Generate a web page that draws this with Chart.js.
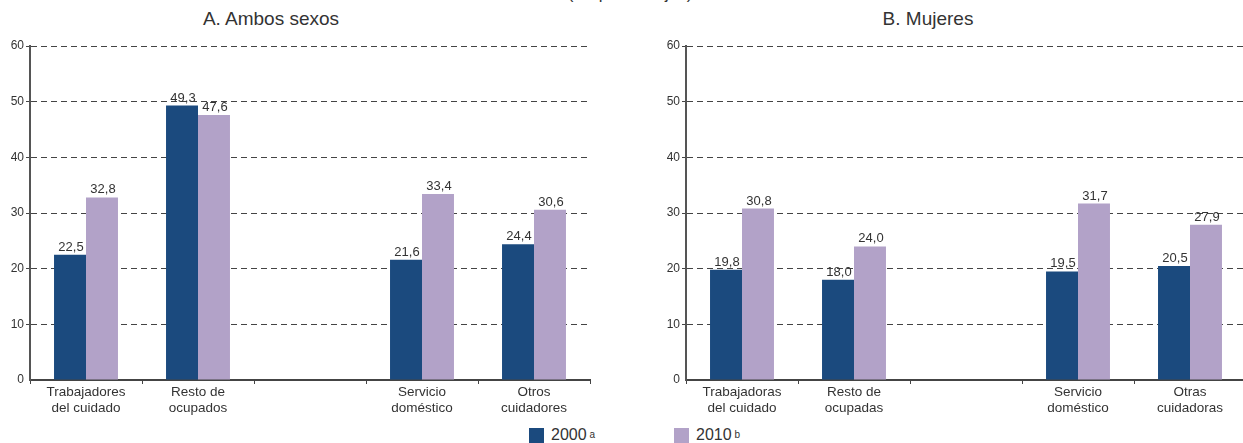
<!DOCTYPE html>
<html>
<head>
<meta charset="utf-8">
<script src="https://cdn.jsdelivr.net/npm/chart.js@4"></script>
<style>
  body { margin: 0; width: 1243px; height: 443px; overflow: hidden; position: relative; background: #fff;
         font-family: "Liberation Sans", Arial, sans-serif; color: #333; }
  .box { position: absolute; }
  .title { position: absolute; top: 9px; font-size: 19px; line-height: 19px; text-align: center; white-space: nowrap; }
  .legend { position: absolute; top: 427px; font-size: 16px; line-height: 16px; display: flex; align-items: center; }
  .legend span.sw { display: inline-block; width: 15px; height: 15px; margin-right: 7px; }
  .legend sup { font-size: 10px; margin-left: 3px; vertical-align: 5px; }
</style>
</head>
<body>
<div class="title" style="top:-15.5px; left:0; width:1260px; font-size:17px; line-height:17px;">(En porcentajes)</div>
<div class="title" style="left:171px; width:200px;">A. Ambos sexos</div>
<div class="title" style="left:828px; width:200px;">B. Mujeres</div>

<div class="box" style="left:0; top:30px; width:600px; height:390px;"><canvas id="chartA"></canvas></div>
<div class="box" style="left:656px; top:30px; width:600px; height:390px;"><canvas id="chartB"></canvas></div>

<div class="legend" style="left:529px;"><span class="sw" style="background:#1b4a7e"></span>2000<sup>a</sup></div>
<div class="legend" style="left:674px;"><span class="sw" style="background:#b2a2c8"></span>2010<sup>b</sup></div>

<script>
// categorias (la tercera es un hueco)
var catsA = [["Trabajadores", "del cuidado"], ["Resto de", "ocupados"], "", ["Servicio", "doméstico"], ["Otros", "cuidadores"]];
var catsB = [["Trabajadoras", "del cuidado"], ["Resto de", "ocupadas"], "", ["Servicio", "doméstico"], ["Otras", "cuidadoras"]];

var a2000 = [22.5, 49.3, null, 21.6, 24.4];
var a2010 = [32.8, 47.6, null, 33.4, 30.6];
var b2000 = [19.8, 18.0, null, 19.5, 20.5];
var b2010 = [30.8, 24.0, null, 31.7, 27.9];

var yTicks = [0, 10, 20, 30, 40, 50, 60];

var BLUE = "#1b4a7e";
var PURPLE = "#b2a2c8";
var FONT = "'Liberation Sans', Arial, sans-serif";

var valueLabels = {
  id: "valueLabels",
  afterDatasetsDraw: function (chart) {
    var ctx = chart.ctx;
    ctx.save();
    ctx.font = "13px " + FONT;
    ctx.fillStyle = "#333";
    ctx.textAlign = "center";
    ctx.textBaseline = "alphabetic";
    chart.data.datasets.forEach(function (ds, i) {
      chart.getDatasetMeta(i).data.forEach(function (bar, j) {
        var v = ds.data[j];
        if (v == null) return;
        ctx.fillText(v.toFixed(1).replace(".", ","), bar.x + 1, bar.y - 4);
      });
    });
    ctx.restore();
  }
};

function makeChart(id, cats, d2000, d2010) {
  var ctx = document.getElementById(id).getContext("2d");
  return new Chart(ctx, {
    type: "bar",
    data: {
      labels: cats,
      datasets: [
        { label: "2000", data: d2000, backgroundColor: BLUE },
        { label: "2010", data: d2010, backgroundColor: PURPLE }
      ]
    },
    options: {
      responsive: true,
      maintainAspectRatio: false,
      animation: false,
      categoryPercentage: 0.571,
      barPercentage: 1,
      layout: { padding: { top: 16, right: 10, left: 0, bottom: 0 } },
      plugins: { legend: { display: false }, tooltip: { enabled: false } },
      scales: {
        x: {
          afterFit: function (s) { s.height = 40; },
          border: { color: "#444", width: 2 },
          grid: { drawOnChartArea: false, drawTicks: true, tickLength: 4, color: "#444", offset: true },
          ticks: { color: "#333", font: { family: FONT, size: 13.5, lineHeight: 1.15 }, padding: 1, maxRotation: 0, autoSkip: false }
        },
        y: {
          min: 0,
          max: 60,
          afterFit: function (s) { s.width = 30; },
          afterBuildTicks: function (s) { s.ticks = yTicks.map(function (v) { return { value: v }; }); },
          border: { color: "#555", width: 2, dash: [6, 4] },
          grid: {
            color: function (c) { return c.tick && c.tick.value === 0 ? "rgba(0,0,0,0)" : "#444"; },
            lineWidth: 1,
            tickLength: 4,
            drawTicks: true
          },
          ticks: { color: "#333", font: { family: FONT, size: 12 }, padding: 2 }
        }
      }
    },
    plugins: [valueLabels]
  });
}

var chartA = makeChart("chartA", catsA, a2000, a2010);
var chartB = makeChart("chartB", catsB, b2000, b2010);
</script>
</body>
</html>
